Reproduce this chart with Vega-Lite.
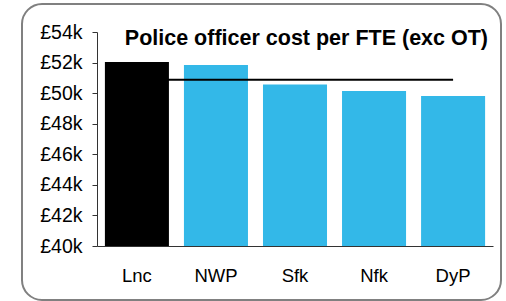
{
  "$schema": "https://vega.github.io/schema/vega-lite/v6.json",
  "width": 479,
  "height": 296,
  "autosize": "none",
  "padding": {"left": 22, "top": 4, "right": 5, "bottom": 1},
  "background": "white",
  "view": {"stroke": "#808080", "strokeWidth": 2, "cornerRadius": 20, "fill": "white"},
  "config": {"font": "Liberation Sans"},
  "title": {
    "text": "Police officer cost per FTE (exc OT)",
    "anchor": "end",
    "fontSize": 21.5,
    "fontWeight": "bold",
    "font": "Liberation Sans",
    "color": "black",
    "offset": -45,
    "dx": -13
  },
  "data": {
    "values": [
      {"force": "Lnc", "cost": 52040, "avg": 50880},
      {"force": "NWP", "cost": 51840, "avg": 50880},
      {"force": "Sfk", "cost": 50560, "avg": 50880},
      {"force": "Nfk", "cost": 50140, "avg": 50880},
      {"force": "DyP", "cost": 49820, "avg": 50880}
    ]
  },
  "encoding": {
    "x": {
      "field": "force",
      "type": "nominal",
      "sort": null,
      "scale": {"range": [75, 471], "paddingInner": 0.19, "paddingOuter": 0.1},
      "axis": {
        "title": null,
        "labelAngle": 0,
        "ticks": false,
        "offset": -54,
        "domainColor": "#333333",
        "labelFontSize": 18.5,
        "labelColor": "black",
        "labelPadding": 20
      }
    }
  },
  "layer": [
    {
      "mark": {"type": "bar"},
      "encoding": {
        "y": {
          "field": "cost",
          "type": "quantitative",
          "scale": {"domain": [40000, 54000], "range": [242, 28], "nice": false, "zero": false},
          "axis": {
            "title": null,
            "values": [40000, 42000, 44000, 46000, 48000, 50000, 52000, 54000],
            "labelExpr": "'£' + datum.value / 1000 + 'k'",
            "offset": -75,
            "grid": false,
            "tickSize": 5,
            "tickColor": "#333333",
            "domainColor": "#333333",
            "labelFontSize": 19.5,
            "labelColor": "black",
            "labelPadding": 10
          }
        },
        "y2": {"datum": 40000},
        "color": {
          "condition": {"test": "datum.force === 'Lnc'", "value": "black"},
          "value": "#33B8E8"
        }
      }
    },
    {
      "mark": {"type": "line", "color": "black", "strokeWidth": 2},
      "encoding": {
        "y": {"field": "avg", "type": "quantitative"}
      }
    }
  ]
}
